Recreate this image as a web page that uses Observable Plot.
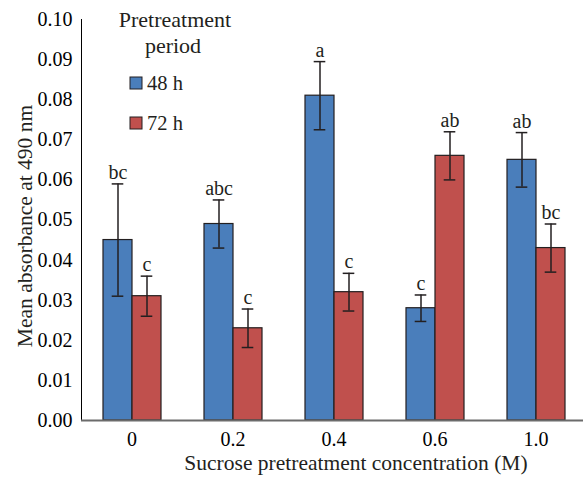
<!DOCTYPE html>
<html>
<head>
<meta charset="utf-8">
<script src="https://cdn.jsdelivr.net/npm/d3@7"></script>
<script src="https://cdn.jsdelivr.net/npm/@observablehq/plot@0.6"></script>
<style>
  html, body { margin: 0; padding: 0; background: #fff; }
  #chart { position: relative; width: 583px; height: 477px; overflow: hidden; }
</style>
</head>
<body>
<div id="chart"></div>
<script>
// ---- data ----
const concentrations = ["0", "0.2", "0.4", "0.6", "1.0"];
const periods = ["48 h", "72 h"];
const mean48 = [0.045, 0.049, 0.081, 0.028, 0.065];
const err48  = [0.014, 0.006, 0.0085, 0.0033, 0.0068];
const mean72 = [0.031, 0.023, 0.032, 0.066, 0.043];
const err72  = [0.005, 0.0048, 0.0047, 0.006, 0.006];
const letters48 = ["bc", "abc", "a", "c", "ab"];
const letters72 = ["c", "c", "c", "ab", "bc"];
const yTicks = [0, 0.01, 0.02, 0.03, 0.04, 0.05, 0.06, 0.07, 0.08, 0.09, 0.10];
const colors = ["#4a7ebb", "#c0504d"];

const rows = [];
concentrations.forEach((c, i) => {
  rows.push({conc: c, period: periods[0], mean: mean48[i], err: err48[i], letter: letters48[i]});
  rows.push({conc: c, period: periods[1], mean: mean72[i], err: err72[i], letter: letters72[i]});
});

const ink = "#231f20";

const plotEl = Plot.plot({
  width: 583,
  height: 477,
  marginLeft: 79,
  marginRight: 0,
  marginTop: 19,
  marginBottom: 57,
  style: {fontFamily: "Liberation Serif", fontSize: "20px"},
  fx: {domain: concentrations, range: [79, 587], padding: 0, label: null, tickSize: 0, tickPadding: 11},
  x: {domain: periods, paddingInner: 0, paddingOuter: 0.73, axis: null},
  y: {domain: [0, 0.1], ticks: yTicks, tickFormat: d3.format(".2f"), tickSize: 0, tickPadding: 9, label: null, line: true},
  color: {domain: periods, range: colors},
  marks: [
    Plot.barY(rows, {fx: "conc", x: "period", y: "mean", fill: "period", stroke: ink, strokeWidth: 1.2}),
    Plot.ruleX(rows, {fx: "conc", x: "period", y1: d => d.mean - d.err, y2: d => d.mean + d.err, stroke: ink, strokeWidth: 1.5}),
    Plot.tickY(rows, {fx: "conc", x: "period", y: d => d.mean - d.err, stroke: ink, strokeWidth: 1.5, insetLeft: 8.7, insetRight: 8.7}),
    Plot.tickY(rows, {fx: "conc", x: "period", y: d => d.mean + d.err, stroke: ink, strokeWidth: 1.5, insetLeft: 8.7, insetRight: 8.7}),
    Plot.text(rows, {fx: "conc", x: "period", y: d => d.mean + d.err, text: "letter", lineAnchor: "bottom", dy: -5, fill: ink}),
    Plot.ruleY([0], {stroke: "#6b6b6b", strokeWidth: 2})
  ]
});

const svg = d3.select(plotEl);
svg.append("text")
  .attr("transform", "translate(32,226) rotate(-90)")
  .attr("text-anchor", "middle")
  .attr("font-size", 21.5).attr("fill", ink)
  .text("Mean absorbance at 490 nm");
svg.append("text")
  .attr("x", 356).attr("y", 470)
  .attr("text-anchor", "middle")
  .attr("font-size", 21.5).attr("fill", ink)
  .text("Sucrose pretreatment concentration (M)");
const lg = svg.append("g").attr("fill", ink);
lg.append("text").attr("x", 175).attr("y", 27).attr("text-anchor", "middle").attr("font-size", 22).text("Pretreatment");
lg.append("text").attr("x", 173).attr("y", 53).attr("text-anchor", "middle").attr("font-size", 22).text("period");
periods.forEach((p, i) => {
  const cy = 83 + i * 40;
  lg.append("rect").attr("x", 130).attr("y", cy - 6).attr("width", 12).attr("height", 12)
    .attr("fill", colors[i]).attr("stroke", ink).attr("stroke-width", 1);
  lg.append("text").attr("x", 147).attr("y", cy + 7).attr("text-anchor", "start").attr("font-size", 20.5).text(p);
});

document.getElementById("chart").appendChild(plotEl);
</script>
</body>
</html>
